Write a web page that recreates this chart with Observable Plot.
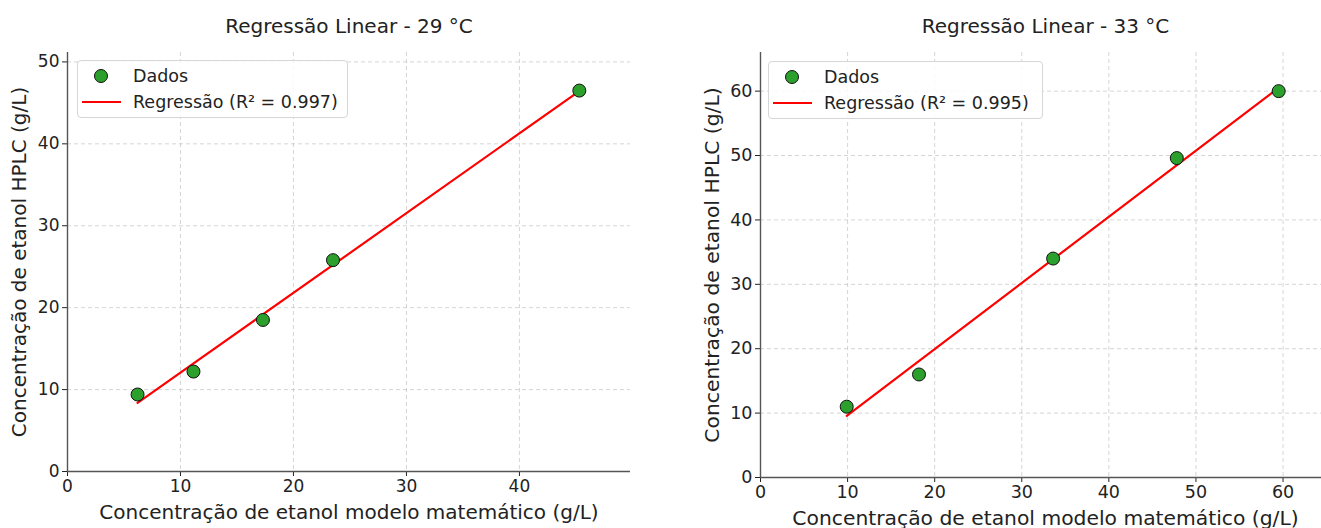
<!DOCTYPE html>
<html>
<head>
<meta charset="utf-8">
<script src="https://cdn.jsdelivr.net/npm/d3@7"></script>
<script src="https://cdn.jsdelivr.net/npm/@observablehq/plot@0.6"></script>
<style>
  html, body { margin: 0; padding: 0; background: #fff; overflow: hidden; width: 1321px; height: 528px; }
  body { position: relative; font-family: "DejaVu Sans", sans-serif; }
  .panel { position: absolute; top: 0; width: 660px; height: 528px; }
  .panel svg { max-width: none !important; }
  .legend { position: absolute; border: 1px solid #d6d6d6; border-radius: 4px; background: rgba(255,255,255,0.85);
            font-family: "DejaVu Sans", sans-serif; font-size: 17.5px; color: #222; box-sizing: border-box; }
  .legend .row { position: absolute; left: 0; height: 20px; line-height: 20px; white-space: nowrap; }
  .legend svg { position: absolute; top: 0; }
  .legend span { position: absolute; }
</style>
</head>
<body>
<div id="left" class="panel" style="left:0px"></div>
<div id="right" class="panel" style="left:680px"></div>
<script>
// ---- Data ----
const titles = ["Regressão Linear - 29 °C", "Regressão Linear - 33 °C"];
const xLabel = "Concentração de etanol modelo matemático (g/L)";
const yLabel = "Concentração de etanol HPLC (g/L)";

const leftModel = [6.2, 11.15, 17.3, 23.5, 45.3];
const leftHPLC  = [9.4, 12.2, 18.5, 25.8, 46.5];
const leftR2 = "0.997";
const leftXTicks = [0, 10, 20, 30, 40];
const leftYTicks = [0, 10, 20, 30, 40, 50];

const rightModel = [9.9, 18.2, 33.6, 47.8, 59.5];
const rightHPLC  = [11.0, 16.0, 34.0, 49.6, 60.0];
const rightR2 = "0.995";
const rightXTicks = [0, 10, 20, 30, 40, 50, 60];
const rightYTicks = [0, 10, 20, 30, 40, 50, 60];

function panel(cfg) {
  const data = cfg.xs.map((x, i) => ({x, y: cfg.ys[i]}));
  const xMax = d3.max(cfg.xs) * 1.1;
  const yMax = d3.max(cfg.ys) * 1.1;
  return Plot.plot({
    width: cfg.width, height: 528,
    marginLeft: cfg.ml, marginRight: cfg.mr, marginTop: cfg.mt, marginBottom: cfg.mb,
    style: {fontFamily: "DejaVu Sans, sans-serif", background: "white", overflow: "visible", maxWidth: "none"},
    x: {domain: [0, xMax]},
    y: {domain: [0, yMax]},
    marks: [
      Plot.gridX(cfg.xTicks, {stroke: "#bdbdbd", strokeOpacity: 0.8, strokeDasharray: "4,3", strokeWidth: 0.8}),
      Plot.gridY(cfg.yTicks, {stroke: "#bdbdbd", strokeOpacity: 0.8, strokeDasharray: "4,3", strokeWidth: 0.8}),
      Plot.axisX(cfg.xTicks, {tickSize: 5, tickPadding: 3, fontSize: cfg.tickFont, color: "#222", label: null, tickFormat: d => String(d)}),
      Plot.axisY(cfg.yTicks, {tickSize: 5, tickPadding: 3, fontSize: cfg.tickFont, color: "#222", label: null, tickFormat: d => String(d)}),
      Plot.ruleX([0], {stroke: "#555", strokeWidth: 1.4}),
      Plot.ruleY([0], {stroke: "#555", strokeWidth: 1.4}),
      Plot.linearRegressionY(data, {x: "x", y: "y", stroke: "red", strokeWidth: 2.2, ci: 0}),
      Plot.dot(data, {x: "x", y: "y", r: 6.5, fill: "#2ca02c", stroke: "#111", strokeWidth: 1}),
      Plot.text([cfg.title], {frameAnchor: "top", lineAnchor: "middle", dy: -cfg.mt + 26, fontSize: 20, fill: "#222"}),
      Plot.text([xLabel], {frameAnchor: "bottom", lineAnchor: "middle", dy: cfg.xLabDy, fontSize: cfg.labFont, fill: "#222"}),
      Plot.text([yLabel], {frameAnchor: "left", textAnchor: "middle", lineAnchor: "middle", dx: cfg.yLabDx, rotate: -90, fontSize: cfg.labFont, fill: "#222"})
    ]
  });
}

function legend(left, top, w, r2) {
  const lg = document.createElement("div");
  lg.className = "legend";
  lg.style.left = left + "px"; lg.style.top = top + "px";
  lg.style.width = w + "px"; lg.style.height = "58px";
  lg.innerHTML = `
    <div class="row" style="top:5px;width:100%">
      <svg width="60" height="20" style="left:0"><circle cx="23" cy="10" r="6.5" fill="#2ca02c" stroke="#111" stroke-width="1"/></svg>
      <span style="left:55px">Dados</span>
    </div>
    <div class="row" style="top:31px;width:100%">
      <svg width="60" height="20" style="left:0"><line x1="4" x2="43" y1="10" y2="10" stroke="red" stroke-width="2.2"/></svg>
      <span style="left:55px">Regressão (R² = ${r2})</span>
    </div>`;
  document.body.appendChild(lg);
}

document.getElementById("left").appendChild(panel({
  xs: leftModel, ys: leftHPLC, xTicks: leftXTicks, yTicks: leftYTicks,
  width: 660, ml: 67, mr: 30, mt: 52, mb: 57,
  tickFont: 17, labFont: 20, title: titles[0],
  xLabDy: 41, yLabDx: -48
}));
document.getElementById("right").appendChild(panel({
  xs: rightModel, ys: rightHPLC, xTicks: rightXTicks, yTicks: rightYTicks,
  width: 660, ml: 80, mr: 10, mt: 52, mb: 51,
  tickFont: 17.5, labFont: 20.3, title: titles[1],
  xLabDy: 41, yLabDx: -48
}));
legend(77, 60, 271, leftR2);
legend(768, 61, 275, rightR2);
</script>
</body>
</html>
